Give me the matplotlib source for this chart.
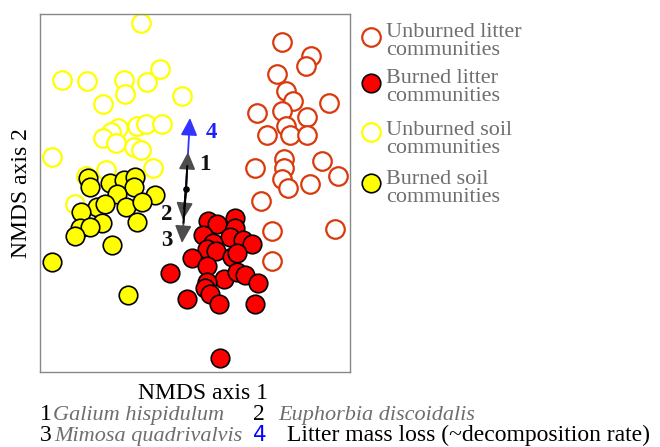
import matplotlib
matplotlib.use('Agg')
import matplotlib.pyplot as plt

plt.rcParams['font.family'] = ['Liberation Serif', 'DejaVu Serif']

# NMDS scores
unburned_litter_x = [0.87, 1.16, 1.11, 0.82, 0.91, 0.98, 1.34, 0.62, 0.87, 1.12, 0.91, 0.72, 0.95,
                     1.12, 0.89, 0.89, 0.60, 1.27, 1.43, 0.87, 0.93, 1.15, 0.66, 0.77, 1.40, 0.77]
unburned_litter_y = [1.51, 1.37, 1.27, 1.19, 1.02, 0.92, 0.90, 0.80, 0.82, 0.76, 0.67, 0.58, 0.58,
                     0.58, 0.34, 0.25, 0.25, 0.32, 0.17, 0.14, 0.05, 0.09, -0.08, -0.38, -0.36, -0.68]

burned_litter_x = [0.13, 0.22, 0.40, 0.40, 0.08, 0.35, 0.48, 0.57, 0.18, 0.12, 0.21, 0.37, 0.42, -0.03,
                   0.12, -0.25, 0.29, 0.42, 0.50, 0.63, 0.12, 0.10, 0.15, -0.08, 0.24, 0.60, 0.25]
burned_litter_y = [-0.28, -0.31, -0.25, -0.35, -0.42, -0.44, -0.47, -0.51, -0.50, -0.56, -0.58, -0.64,
                   -0.60, -0.65, -0.73, -0.80, -0.86, -0.79, -0.82, -0.90, -0.89, -0.95, -1.01, -1.06,
                   -1.11, -1.11, -1.65]

unburned_soil_x = [-0.54, -1.33, -1.08, -0.71, -0.48, -0.35, -0.70, -0.92, -0.13, -0.77, -0.84, -0.92,
                   -0.79, -0.58, -0.49, -0.33, -0.61, -0.54, -1.43, -0.42, -0.89, -1.09, -1.20]
unburned_soil_y = [1.70, 1.13, 1.12, 1.13, 1.11, 1.24, 0.99, 0.89, 0.97, 0.65, 0.61, 0.55,
                   0.50, 0.67, 0.69, 0.69, 0.46, 0.43, 0.36, 0.25, 0.23, 0.17, -0.11]

burned_soil_x = [-1.07, -1.05, -0.85, -0.71, -0.60, -0.61, -0.78, -0.40, -0.98, -0.90, -0.69,
                 -0.53, -1.14, -0.93, -0.58, -1.15, -1.05, -1.20, -0.83, -1.43, -0.67]
burned_soil_y = [0.15, 0.06, 0.10, 0.13, 0.16, 0.06, -0.01, -0.02, -0.14, -0.11, -0.14,
                 -0.09, -0.19, -0.30, -0.29, -0.35, -0.34, -0.43, -0.52, -0.69, -1.02]

# fitted vectors: origin, tips and label positions
vec_origin = (-0.09, 0.04)
vec_ids = ['1', '2', '3', '4']
vec_tip_x = [-0.07, -0.12, -0.13, -0.05]
vec_tip_y = [0.41, -0.27, -0.50, 0.75]
vec_lab_x = [0.10, -0.28, -0.28, 0.16]
vec_lab_y = [0.28, -0.22, -0.47, 0.61]

legend_labels = [('Unburned litter', 'communities'), ('Burned litter', 'communities'),
                 ('Unburned soil', 'communities'), ('Burned soil', 'communities')]
species = ['Galium hispidulum', 'Euphorbia discoidalis', 'Mimosa quadrivalvis']
vec4_text = 'Litter mass loss (~decomposition rate)'

RED_OPEN = '#d93a0c'
GREY_TXT = '#6e6e6e'
W, H = 660, 447

fig = plt.figure(figsize=(W / 100, H / 100), dpi=100)
ax = fig.add_axes([40 / W, 1 - 372 / H, 310 / W, 358 / H])

S = 178
ax.scatter(unburned_litter_x, unburned_litter_y, s=S, facecolors='white', edgecolors=RED_OPEN,
           linewidths=1.6, zorder=2)
ax.scatter(unburned_soil_x, unburned_soil_y, s=S, facecolors='white', edgecolors='#ffff00',
           linewidths=1.6, zorder=2)
ax.scatter(burned_soil_x, burned_soil_y, s=S, facecolors='#ffff00', edgecolors='black',
           linewidths=1.2, zorder=3)
ax.scatter(burned_litter_x, burned_litter_y, s=S, facecolors='#ff0000', edgecolors='black',
           linewidths=1.2, zorder=3)

# vectors - draw 4 first so 1 sits on top of its base
for i in [3, 0, 1, 2]:
    blue = vec_ids[i] == '4'
    head = '#3333ff' if blue else '#4d4d4d'
    ax.annotate('', xy=(vec_tip_x[i], vec_tip_y[i]), xytext=vec_origin,
                arrowprops=dict(arrowstyle='-|>,head_length=0.42,head_width=0.2',
                                mutation_scale=25, fc=head, ec=head, lw=1.3,
                                shrinkA=0, shrinkB=0), zorder=4)
    # black shaft over the grey head colour
    if not blue:
        fx = vec_origin[0] + 0.62 * (vec_tip_x[i] - vec_origin[0])
        fy = vec_origin[1] + 0.62 * (vec_tip_y[i] - vec_origin[1])
        ax.plot([vec_origin[0], fx], [vec_origin[1], fy], color='black', lw=1.4, zorder=5)
    ax.text(vec_lab_x[i], vec_lab_y[i], vec_ids[i], fontsize=16.5, fontweight='bold',
            color='#2020ff' if blue else '#111111', ha='center', va='center', zorder=6)
ax.scatter([vec_origin[0]], [vec_origin[1]], s=14, color='black', zorder=6)

ax.set_xlim(-1.55, 1.55)
ax.set_ylim(-1.79, 1.79)
ax.set_xticks([])
ax.set_yticks([])
for sp in ax.spines.values():
    sp.set_color('#888888')
    sp.set_linewidth(1.0)

# overlay in pixel units for legend and captions
lax = fig.add_axes([0, 0, 1, 1], zorder=-1)
lax.set_xlim(0, W)
lax.set_ylim(H, 0)
lax.axis('off')

FS_LEG = 15.9
FS_LAB = 17
FS_SP = 16
mk_y = [37, 83, 132, 183]
mk_face = ['white', '#ff0000', 'white', '#ffff00']
mk_edge = [RED_OPEN, 'black', '#ffff00', 'black']
base1 = [37, 83, 135, 184]
for k in range(4):
    lax.scatter([371], [mk_y[k]], s=S, facecolors=mk_face[k], edgecolors=mk_edge[k],
                linewidths=1.6 if mk_face[k] == 'white' else 1.2, clip_on=False)
    lax.text(386, base1[k], legend_labels[k][0], fontsize=FS_LEG, color=GREY_TXT, va='baseline')
    lax.text(386, base1[k] + 18, legend_labels[k][1], fontsize=FS_LEG, color=GREY_TXT,
             va='baseline')

lax.text(22, 193, 'NMDS axis 2', fontsize=FS_LAB, rotation=90, ha='center', va='center')
lax.text(203, 399, 'NMDS axis 1', fontsize=FS_LAB, ha='center', va='baseline')

lax.text(40, 420, '1', fontsize=FS_LAB, va='baseline')
lax.text(53, 420, species[0], fontsize=FS_SP, style='italic', color=GREY_TXT, va='baseline')
lax.text(253, 420, '2', fontsize=FS_LAB, va='baseline')
lax.text(278, 420, species[1], fontsize=FS_SP, style='italic', color=GREY_TXT, va='baseline')
lax.text(40, 441, '3', fontsize=FS_LAB, va='baseline')
lax.text(54, 441, species[2], fontsize=FS_SP, style='italic', color=GREY_TXT, va='baseline')
lax.text(253, 441, '4', fontsize=15.5, color='#0000ff', family='DejaVu Sans', va='baseline')
lax.text(287, 441, vec4_text, fontsize=FS_LAB, va='baseline')

fig.savefig('out.png', dpi=100)
